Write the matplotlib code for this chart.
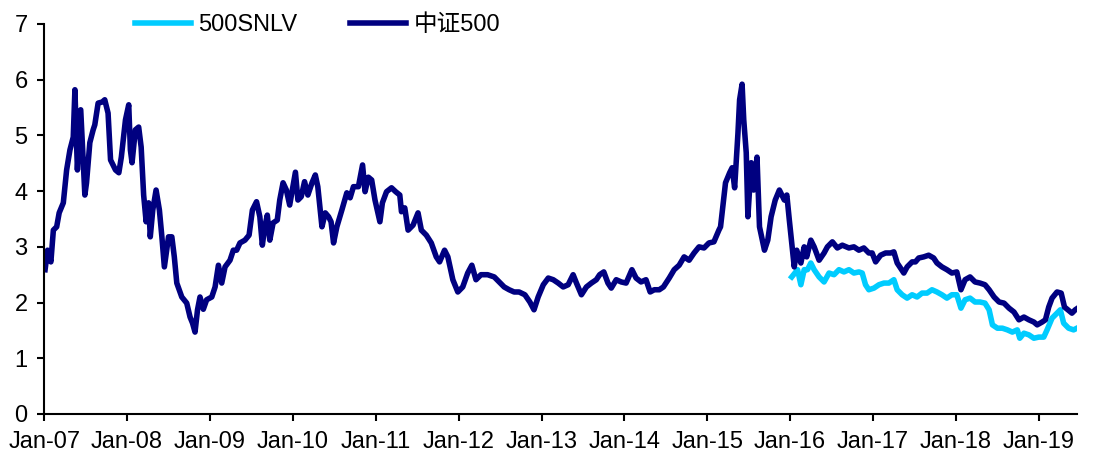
import matplotlib
matplotlib.use("Agg")
import matplotlib.pyplot as plt
import matplotlib.dates as mdates
import pandas as pd

plt.rcParams['font.family'] = ['Liberation Sans', 'Noto Sans CJK SC', 'DejaVu Sans']

# 中证500 (decimal year, value)
csi_years = [2007.01, 2007.04, 2007.08, 2007.11, 2007.15, 2007.18, 2007.23, 2007.27, 2007.31, 2007.35,
             2007.37, 2007.40, 2007.44, 2007.49, 2007.51, 2007.55, 2007.59, 2007.61, 2007.65, 2007.70,
             2007.73, 2007.77, 2007.80, 2007.86, 2007.90, 2007.93, 2007.98, 2008.02, 2008.04, 2008.06,
             2008.10, 2008.14, 2008.17, 2008.20, 2008.23, 2008.26, 2008.28, 2008.31, 2008.35, 2008.39,
             2008.42, 2008.45, 2008.50, 2008.54, 2008.57, 2008.60, 2008.66, 2008.72, 2008.76, 2008.79,
             2008.82, 2008.85, 2008.88, 2008.92, 2008.96, 2009.02, 2009.06, 2009.10, 2009.14, 2009.18,
             2009.24, 2009.28, 2009.32, 2009.36, 2009.42, 2009.47, 2009.51, 2009.56, 2009.60, 2009.63,
             2009.66, 2009.69, 2009.72, 2009.76, 2009.81, 2009.84, 2009.88, 2009.92, 2009.96, 2010.00,
             2010.03, 2010.06, 2010.10, 2010.14, 2010.18, 2010.23, 2010.27, 2010.30, 2010.35, 2010.39,
             2010.43, 2010.46, 2010.49, 2010.53, 2010.59, 2010.65, 2010.69, 2010.73, 2010.79, 2010.84,
             2010.87, 2010.91, 2010.95, 2010.99, 2011.05, 2011.08, 2011.13, 2011.19, 2011.24, 2011.29,
             2011.31, 2011.35, 2011.39, 2011.45, 2011.51, 2011.55, 2011.61, 2011.67, 2011.73, 2011.77,
             2011.83, 2011.87, 2011.93, 2011.99, 2012.05, 2012.11, 2012.16, 2012.21, 2012.27, 2012.35,
             2012.43, 2012.49, 2012.55, 2012.61, 2012.67, 2012.73, 2012.80, 2012.86, 2012.91, 2012.96,
             2013.02, 2013.08, 2013.14, 2013.20, 2013.26, 2013.32, 2013.38, 2013.42, 2013.48, 2013.54,
             2013.60, 2013.66, 2013.70, 2013.75, 2013.80, 2013.84, 2013.90, 2013.96, 2014.02, 2014.09,
             2014.14, 2014.20, 2014.26, 2014.31, 2014.36, 2014.42, 2014.47, 2014.54, 2014.60, 2014.66,
             2014.72, 2014.78, 2014.84, 2014.90, 2014.96, 2015.02, 2015.08, 2015.14, 2015.16, 2015.22,
             2015.27, 2015.30, 2015.33, 2015.37, 2015.39, 2015.42, 2015.44, 2015.47, 2015.49, 2015.53,
             2015.56, 2015.60, 2015.63, 2015.69, 2015.73, 2015.77, 2015.82, 2015.87, 2015.93, 2015.96,
             2015.99, 2016.02, 2016.05, 2016.08, 2016.13, 2016.17, 2016.20, 2016.25, 2016.29, 2016.35,
             2016.41, 2016.45, 2016.51, 2016.57, 2016.63, 2016.71, 2016.77, 2016.83, 2016.89, 2016.95,
             2016.99, 2017.03, 2017.09, 2017.15, 2017.21, 2017.25, 2017.29, 2017.33, 2017.37, 2017.41,
             2017.47, 2017.51, 2017.55, 2017.61, 2017.67, 2017.73, 2017.77, 2017.83, 2017.89, 2017.95,
             2018.01, 2018.06, 2018.11, 2018.17, 2018.23, 2018.29, 2018.35, 2018.40, 2018.46, 2018.52,
             2018.58, 2018.64, 2018.70, 2018.76, 2018.82, 2018.88, 2018.94, 2018.98, 2019.04, 2019.08,
             2019.12, 2019.16, 2019.22, 2019.27, 2019.31, 2019.35, 2019.40, 2019.44, 2019.46]
csi_values = [2.59, 2.94, 2.73, 3.30, 3.36, 3.61, 3.79, 4.38, 4.74, 4.97,
              5.82, 4.38, 5.46, 3.93, 4.15, 4.87, 5.10, 5.19, 5.58, 5.60,
              5.64, 5.40, 4.56, 4.38, 4.33, 4.61, 5.28, 5.55, 4.74, 4.51,
              5.10, 5.15, 4.79, 3.93, 3.45, 3.79, 3.18, 3.66, 4.02, 3.66,
              3.18, 2.64, 3.18, 3.18, 2.82, 2.35, 2.10, 1.99, 1.74, 1.63,
              1.47, 1.87, 2.10, 1.88, 2.05, 2.10, 2.28, 2.67, 2.35, 2.64,
              2.76, 2.94, 2.94, 3.07, 3.12, 3.21, 3.66, 3.81, 3.54, 3.03,
              3.36, 3.57, 3.12, 3.43, 3.48, 3.84, 4.15, 4.02, 3.75, 4.08,
              4.34, 3.84, 3.90, 4.17, 3.93, 4.15, 4.29, 4.08, 3.36, 3.61,
              3.54, 3.45, 3.07, 3.36, 3.66, 3.97, 3.88, 4.08, 4.08, 4.47,
              3.99, 4.25, 4.20, 3.84, 3.45, 3.79, 3.99, 4.06, 3.99, 3.93,
              3.63, 3.70, 3.30, 3.39, 3.61, 3.30, 3.21, 3.07, 2.82, 2.73,
              2.94, 2.82, 2.41, 2.19, 2.28, 2.53, 2.67, 2.41, 2.50, 2.50,
              2.46, 2.37, 2.28, 2.23, 2.19, 2.19, 2.14, 2.01, 1.87, 2.10,
              2.32, 2.44, 2.41, 2.35, 2.28, 2.32, 2.50, 2.35, 2.14, 2.28,
              2.35, 2.41, 2.50, 2.55, 2.35, 2.26, 2.41, 2.37, 2.35, 2.59,
              2.44, 2.37, 2.41, 2.19, 2.23, 2.23, 2.28, 2.44, 2.59, 2.67,
              2.82, 2.76, 2.89, 3.00, 2.98, 3.07, 3.09, 3.30, 3.36, 4.15,
              4.33, 4.42, 4.06, 5.04, 5.64, 5.92, 5.28, 4.69, 3.54, 4.51,
              4.02, 4.61, 3.36, 2.94, 3.12, 3.54, 3.84, 4.02, 3.84, 3.93,
              3.48, 3.07, 2.64, 2.94, 2.71, 3.00, 2.82, 3.12, 3.00, 2.76,
              2.89, 3.00, 3.09, 2.98, 3.03, 2.98, 3.00, 2.94, 2.98, 2.89,
              2.89, 2.73, 2.85, 2.89, 2.89, 2.91, 2.71, 2.62, 2.53, 2.64,
              2.73, 2.73, 2.80, 2.82, 2.85, 2.80, 2.71, 2.64, 2.59, 2.53,
              2.55, 2.23, 2.41, 2.46, 2.37, 2.35, 2.32, 2.23, 2.10, 2.01,
              1.99, 1.90, 1.83, 1.69, 1.74, 1.69, 1.65, 1.60, 1.65, 1.69,
              1.92, 2.08, 2.19, 2.17, 1.92, 1.87, 1.81, 1.87, 1.89]

# 500SNLV
snlv_years = [2016.02, 2016.09, 2016.13, 2016.17, 2016.21, 2016.25, 2016.29, 2016.35, 2016.41, 2016.47,
              2016.53, 2016.59, 2016.65, 2016.71, 2016.77, 2016.83, 2016.87, 2016.91, 2016.95, 2017.01,
              2017.07, 2017.13, 2017.19, 2017.25, 2017.29, 2017.35, 2017.41, 2017.47, 2017.53, 2017.59,
              2017.65, 2017.71, 2017.77, 2017.83, 2017.89, 2017.95, 2018.01, 2018.06, 2018.11, 2018.17,
              2018.23, 2018.29, 2018.35, 2018.40, 2018.44, 2018.50, 2018.56, 2018.62, 2018.68, 2018.74,
              2018.77, 2018.82, 2018.88, 2018.94, 2019.00, 2019.06, 2019.10, 2019.16, 2019.22, 2019.26,
              2019.30, 2019.36, 2019.42, 2019.46]
snlv_values = [2.46, 2.59, 2.32, 2.59, 2.59, 2.71, 2.59, 2.46, 2.37, 2.53,
               2.50, 2.59, 2.55, 2.59, 2.53, 2.55, 2.53, 2.32, 2.23, 2.26,
               2.32, 2.35, 2.35, 2.41, 2.23, 2.14, 2.08, 2.14, 2.10, 2.17,
               2.17, 2.23, 2.19, 2.14, 2.08, 2.14, 2.14, 1.90, 2.05, 2.08,
               2.01, 2.01, 1.99, 1.87, 1.60, 1.54, 1.54, 1.51, 1.47, 1.51,
               1.36, 1.45, 1.42, 1.36, 1.38, 1.38, 1.51, 1.72, 1.81, 1.87,
               1.63, 1.54, 1.51, 1.54]

tick_years = list(range(2007, 2020))


def to_dates(years):
    out = []
    for y in years:
        base = pd.Timestamp(int(y), 1, 1)
        out.append(base + pd.Timedelta(days=(y - int(y)) * 365.25))
    return out


fig = plt.figure(figsize=(10.98, 4.65), dpi=100)
ax = fig.add_axes([0.0403, 0.1097, 0.9405, 0.8387])

ax.plot(to_dates(snlv_years), snlv_values, color='#00CCFF', lw=4, label='500SNLV',
        solid_joinstyle='round')
ax.plot(to_dates(csi_years), csi_values, color='#000080', lw=4, label='中证500',
        solid_joinstyle='round')

ax.set_ylim(0, 7)
ax.set_yticks(range(0, 8))
ax.set_xlim(pd.Timestamp('2007-01-01'), to_dates([2019.46])[0])
ax.set_xticks([pd.Timestamp(y, 1, 1) for y in tick_years])
ax.xaxis.set_major_formatter(mdates.DateFormatter('%b-%y'))

for s in ['top', 'right']:
    ax.spines[s].set_visible(False)
for s in ['left', 'bottom']:
    ax.spines[s].set_linewidth(1.5)
ax.tick_params(axis='both', labelsize=17, width=1.5, length=5, direction='out')
ax.tick_params(axis='y', pad=7)
ax.tick_params(axis='x', pad=7)

fig.legend(loc='center', bbox_to_anchor=(0.289, 0.946), ncol=2, frameon=False,
           fontsize=17, handlelength=2.4, handletextpad=0.3, columnspacing=2.2)

fig.savefig('out.png', dpi=100)
